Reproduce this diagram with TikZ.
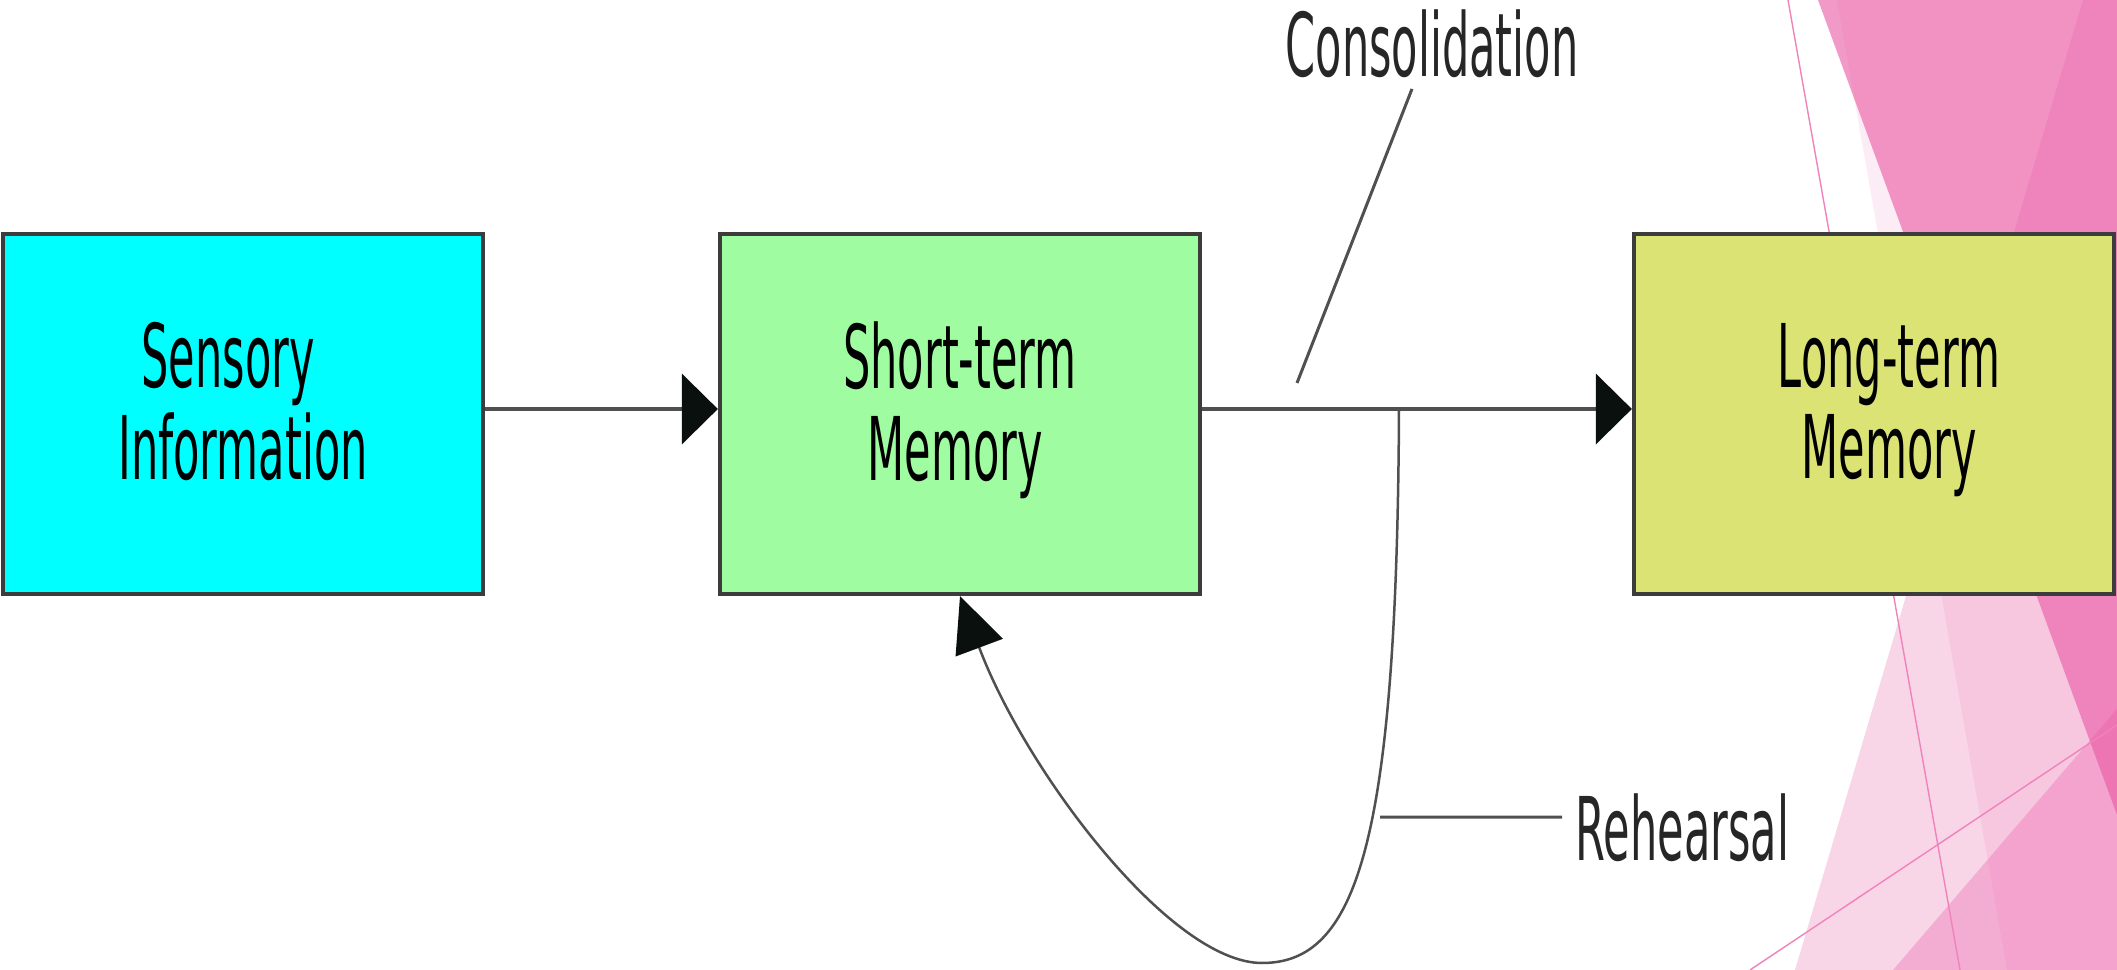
\documentclass[tikz,border=0pt]{standalone}
\usepackage{fontspec}
\setmainfont{DejaVu Sans}[FakeStretch=0.49]
\usepackage{xcolor}
\usetikzlibrary{arrows.meta}
\definecolor{facet}{RGB}{235,90,165}
\definecolor{sensecol}{RGB}{0,255,255}
\definecolor{shortcol}{RGB}{160,252,160}
\definecolor{longcol}{RGB}{220,227,117}
\definecolor{edgecol}{RGB}{60,60,60}
\definecolor{linecol}{RGB}{80,80,80}
\definecolor{tipcol}{RGB}{10,16,14}

\begin{document}
\begin{tikzpicture}[x=0.01cm, y=-0.01cm,
  memory/.style={draw=edgecol, line width=0.04cm, minimum width=4.8cm, minimum height=3.6cm,
    align=center, font=\fontsize{25}{26}\selectfont, text=black, text depth=0.26cm},
  flow/.style={draw=linecol, line width=0.04cm, -{Triangle[length=0.36cm,width=0.7cm,color=tipcol]}},
  lead/.style={draw=linecol, line width=0.03cm},
  tag/.style={font=\fontsize{25}{27}\selectfont, text=black!85, inner sep=0pt},
  facetline/.style={draw=facet!75, line width=0.4pt}]
\useasboundingbox (0,0) rectangle (2117,970);
\fill[white] (0,0) rectangle (2117,970);

\fill[facet, opacity=0.61] (1818,0) -- (2117,0) -- (2117,815) -- cycle;
\fill[facet, opacity=0.11] (1837,0) -- (2117,0) -- (2117,970) -- (2007,970) -- cycle;
\fill[facet, opacity=0.25] (2083,0) -- (2117,0) -- (2117,970) -- (1795,970) -- cycle;
\fill[facet, opacity=0.32] (1893,970) -- (2117,709) -- (2117,970) -- cycle;
\draw[facetline] (1788,0) -- (1960,970);
\draw[facetline] (1750,970) -- (2117,725);

\node[memory, fill=sensecol] (sens) at (243,414) {Sensory\hspace*{0.3cm}\\Information};
\node[memory, fill=shortcol] (stm) at (960,414) {Short-term\\Memory\hspace*{0.1cm}};
\node[memory, fill=longcol] (ltm) at (1874,414) {\hspace{0.3cm}Long-term\\\hspace{0.3cm}Memory};

\draw[flow] ([yshift=0.05cm]sens.east) -- ([yshift=0.05cm]stm.west);
\draw[flow] ([yshift=0.05cm]stm.east) -- ([yshift=0.05cm]ltm.west);

\coordinate (rj) at (1399,409);
\coordinate (rc) at (1380,817);
\coordinate (cj) at (1297,383);
\draw[linecol, line width=0.025cm, -{Triangle[length=0.55cm,width=0.5cm,color=tipcol]}]
  (rj) .. controls (1397,850) and (1355,963) .. (1262,963)
  .. controls (1170,963) and (1025,770) .. (stm.south);

\node[tag, anchor=base] (cons) at (1432,77) {Consolidation};
\node[tag, anchor=base west] (reh) at (1575,860) {Rehearsal};
\draw[lead] ([xshift=-0.2cm,yshift=-0.1cm]cons.south) -- (cj);
\draw[lead] (rc) -- ([xshift=-0.13cm,yshift=0.1cm]reh.west);
\end{tikzpicture}
\end{document}
